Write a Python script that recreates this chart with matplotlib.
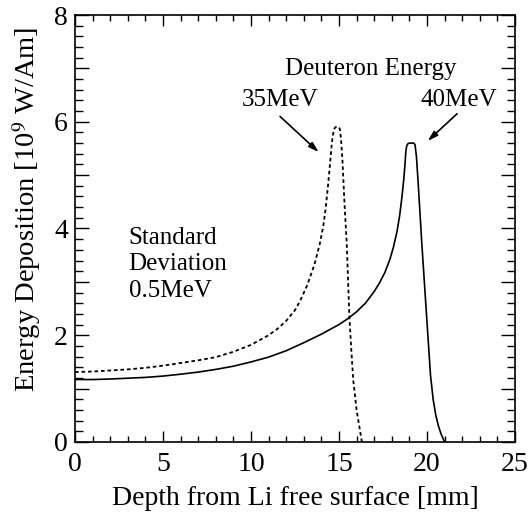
import matplotlib
matplotlib.use("Agg")
import matplotlib.pyplot as plt
from matplotlib.ticker import MultipleLocator

plt.rcParams['font.family'] = ['Liberation Serif', 'DejaVu Serif']
plt.rcParams['mathtext.fontset'] = 'stix'

# 40 MeV (solid)
x40 = [0, 1, 2, 3, 4, 5, 6, 7, 8, 9, 10, 11, 12, 13, 14, 14.5, 15, 15.5, 16, 16.5, 17,
       17.3, 17.6, 17.9, 18.1, 18.3, 18.45, 18.58, 18.68, 18.75, 18.8, 18.85, 18.92, 19.0,
       19.25, 19.32, 19.4, 19.5, 19.7, 19.95, 20.2, 20.35, 20.5, 20.65, 20.8, 21.0]
y40 = [1.17, 1.17, 1.18, 1.195, 1.21, 1.235, 1.27, 1.31, 1.36, 1.42, 1.50, 1.59, 1.71,
       1.86, 2.02, 2.11, 2.2, 2.31, 2.44, 2.6, 2.82, 2.98, 3.17, 3.43, 3.66, 3.95, 4.25,
       4.6, 4.92, 5.2, 5.45, 5.55, 5.59, 5.6, 5.6, 5.57, 5.35, 4.85, 3.75, 2.5, 1.25, 0.8,
       0.5, 0.3, 0.15, 0.0]

# 35 MeV (dashed)
x35 = [0, 1, 2, 3, 4, 5, 6, 7, 8, 9, 10, 11, 11.5, 12, 12.5, 12.8, 13.2, 13.6, 13.9, 14.1,
       14.25, 14.39, 14.5, 14.58, 14.65, 14.72, 14.8, 15.0, 15.06, 15.12, 15.2, 15.3,
       15.44, 15.59, 15.7, 15.81, 16.0, 16.15, 16.3]
y35 = [1.31, 1.32, 1.34, 1.36, 1.39, 1.43, 1.48, 1.53, 1.59, 1.69, 1.82, 2.0, 2.12, 2.27,
       2.47, 2.65, 2.94, 3.32, 3.7, 4.03, 4.4, 4.85, 5.25, 5.55, 5.75, 5.86, 5.9, 5.9, 5.85,
       5.65, 5.25, 4.55, 3.72, 2.35, 1.72, 1.16, 0.6, 0.3, 0.0]

fig = plt.figure(figsize=(5.29, 5.14), dpi=100)
ax = fig.add_axes([0.1418, 0.1401, 0.8317, 0.8307])

ax.plot(x40, y40, color='black', lw=1.2, solid_joinstyle='round')
ax.plot(x35, y35, color='black', lw=1.3, linestyle=(0, (2.0, 1.6)))

ax.set_xlim(0, 25)
ax.set_ylim(0, 8)
ax.xaxis.set_major_locator(MultipleLocator(5))
ax.xaxis.set_minor_locator(MultipleLocator(1))
ax.yaxis.set_minor_locator(MultipleLocator(0.2))
ax.set_yticks([0, 1, 2, 3, 4, 5, 6, 7, 8])
ax.set_yticklabels(['0', '', '2', '', '4', '', '6', '', '8'])

ax.tick_params(axis='both', which='both', direction='in', top=True, right=True,
               width=1.0, labelsize=20, colors='black')
ax.tick_params(axis='x', which='major', length=8, pad=7)
ax.tick_params(axis='x', which='minor', length=4)
ax.tick_params(axis='y', which='major', length=10, pad=5)
ax.tick_params(axis='y', which='minor', length=5.5)
for s in ax.spines.values():
    s.set_linewidth(1.2)

ax.set_xlabel('Depth from Li free surface [mm]', fontsize=20, labelpad=7)
ax.set_ylabel('Energy Deposition [10$^{9}$ W/Am]', fontsize=20.5)
ax.yaxis.set_label_coords(-0.073, 0.545)

fs = 18
ax.text(11.95, 6.98, 'Deuteron Energy', fontsize=fs, va='center', ha='left')
ax.text(9.5, 6.41, '35MeV', fontsize=fs, va='center', ha='left')
ax.text(19.65, 6.41, '40MeV', fontsize=fs, va='center', ha='left')
ax.text(3.05, 3.33, 'Standard\nDeviation\n0.5MeV', fontsize=fs, va='center', ha='left',
        linespacing=1.25)

arrow = dict(arrowstyle='-|>,head_length=0.6,head_width=0.18', color='black', lw=1.2,
             shrinkA=0, shrinkB=0)
ax.annotate('', xy=(13.85, 5.43), xytext=(11.65, 6.10), arrowprops=arrow)
ax.annotate('', xy=(20.04, 5.64), xytext=(21.71, 6.15), arrowprops=arrow)

fig.savefig('out.png', dpi=100)
